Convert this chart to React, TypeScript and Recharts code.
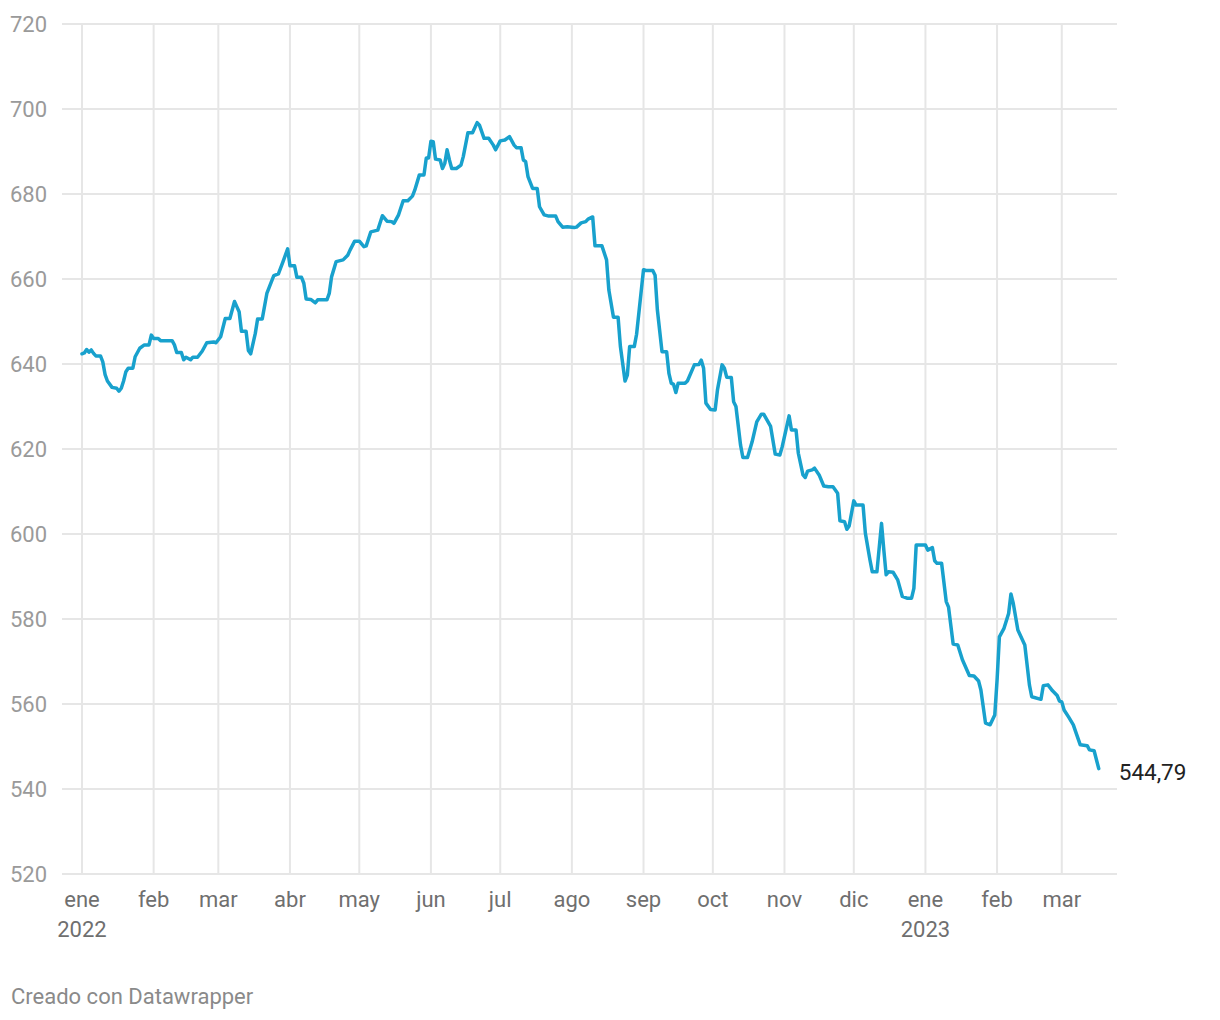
import React from "react";
import { LineChart, Line, XAxis, YAxis, CartesianGrid, ReferenceLine } from "recharts";

// Day offsets counted from 1 January 2022
const dayOffsets: number[] = [
  0, 1, 2, 3, 4, 5, 6, 8, 9, 10,
  11, 13, 15, 16, 17, 18, 19, 20, 22, 23,
  25, 27, 29, 30, 31, 33, 34, 39, 40, 41,
  43, 44, 45, 47, 48, 50, 52, 54, 57, 58,
  60, 62, 64, 66, 67, 68, 69, 71, 72, 73,
  75, 76, 78, 80, 83, 85, 87, 89, 90, 92,
  93, 95, 96, 97, 99, 101, 102, 106, 107, 108,
  110, 113, 115, 116, 118, 120, 122, 123, 125, 128,
  130, 132, 134, 135, 137, 139, 141, 143, 144, 146,
  148, 149, 150, 151, 152, 153, 155, 156, 157, 158,
  159, 160, 162, 164, 165, 167, 169, 171, 172, 174,
  176, 178, 179, 181, 183, 185, 187, 188, 190, 191,
  192, 193, 195, 197, 198, 200, 202, 205, 206, 208,
  210, 213, 214, 216, 218, 219, 221, 222, 225, 227,
  228, 230, 232, 233, 235, 236, 237, 239, 240, 243,
  244, 247, 248, 249, 251, 253, 254, 255, 256, 257,
  258, 261, 262, 265, 267, 268, 269, 270, 272, 274,
  275, 277, 278, 279, 281, 282, 283, 285, 286, 288,
  290, 292, 294, 295, 298, 300, 302, 303, 306, 307,
  309, 310, 312, 313, 314, 316, 317, 319, 321, 323,
  325, 327, 328, 330, 331, 332, 334, 335, 338, 339,
  341, 342, 344, 346, 347, 348, 349, 351, 353, 355,
  357, 359, 360, 361, 363, 365, 366, 368, 369, 370,
  372, 374, 375, 377, 379, 381, 384, 386, 388, 389,
  391, 393, 395, 396, 397, 399, 401, 402, 403, 405,
  408, 410, 411, 415, 416, 418, 420, 422, 423, 424,
  425, 427, 429, 430, 432, 435, 436, 438, 440,
];

const values: number[] = [
  642.4, 642.6, 643.4, 642.8, 643.3, 642.5, 641.9, 641.9, 640.5, 637.5,
  636, 634.5, 634.3, 633.6, 634.3, 636, 638.2, 639, 639, 641.7,
  643.7, 644.5, 644.5, 646.8, 646, 646, 645.5, 645.5, 644.5, 642.7,
  642.7, 641, 641.6, 641, 641.6, 641.6, 643, 645, 645.2, 645,
  646.4, 650.7, 650.7, 654.7, 653.5, 652.3, 647.7, 647.7, 643.2, 642.4,
  647.2, 650.6, 650.6, 656.6, 660.8, 661.2, 664.1, 667.1, 663.1, 663.1,
  660.4, 660.4, 659, 655.3, 655.2, 654.4, 655.1, 655.1, 656.6, 660.5,
  664.1, 664.5, 665.6, 666.8, 668.9, 668.9, 667.6, 667.8, 671.1, 671.5,
  674.9, 673.6, 673.5, 673.1, 675.1, 678.4, 678.4, 679.5, 680.9, 684.5,
  684.5, 688.5, 688.5, 692.4, 692.3, 688.2, 688, 686, 687.2, 690.4,
  688, 686, 686, 686.8, 688.8, 694.4, 694.4, 696.8, 696.2, 693.1,
  693.1, 691.5, 690.4, 692.5, 692.7, 693.5, 691.5, 690.9, 690.9, 688,
  687.6, 684.1, 681.3, 681.3, 677, 675.1, 674.8, 674.8, 673.5, 672.2,
  672.3, 672.1, 672.2, 673.2, 673.5, 674.1, 674.6, 667.8, 667.8, 664.5,
  657.4, 651, 651, 644.1, 636, 637.4, 644.1, 644.1, 647, 662.2,
  662, 662, 660.9, 652.7, 642.9, 642.9, 637.8, 635.5, 635.2, 633.3,
  635.5, 635.5, 636, 639.8, 639.9, 640.9, 639, 630.8, 629.3, 629.2,
  633.9, 639.8, 639, 636.9, 636.8, 631.1, 630, 620.9, 618, 618,
  621.7, 626.4, 628.2, 628.2, 625.3, 618.8, 618.6, 620.5, 627.8, 624.5,
  624.5, 619, 613.9, 613.3, 614.8, 615.1, 615.5, 613.9, 611.3, 611.1,
  611.1, 609.6, 603.1, 602.9, 601.1, 601.9, 607.8, 606.8, 606.8, 600.2,
  593.9, 591.1, 591.1, 602.5, 596.2, 590.4, 591.1, 591, 589.2, 585.3,
  584.9, 584.9, 587.2, 597.4, 597.4, 597.4, 596.2, 596.8, 593.7, 593.1,
  593.1, 584.1, 582.8, 574.1, 573.9, 570.4, 566.7, 566.6, 565.4, 563.3,
  555.5, 555.1, 557.4, 565.6, 575.8, 577.8, 581.3, 585.9, 583.7, 577.4,
  573.9, 564.5, 561.7, 561.1, 564.3, 564.5, 563.1, 562, 560.7, 560.5,
  558.6, 556.9, 555.1, 553.5, 550.4, 550.2, 549.2, 549, 544.79,
];

// Month starts (day offsets from 1 January 2022) and their labels
const monthTicks: number[] = [0, 31, 59, 90, 120, 151, 181, 212, 243, 273, 304, 334, 365, 396, 424];
const monthLabels: string[] = ["ene", "feb", "mar", "abr", "may", "jun", "jul", "ago", "sep", "oct", "nov", "dic", "ene", "feb", "mar"];
const yearLabels: string[] = ["2022", "", "", "", "", "", "", "", "", "", "", "", "2023", "", ""];

const yTicks: number[] = [520, 540, 560, 580, 600, 620, 640, 660, 680, 700, 720];

const lastLabel = "544,79";
const creditText = "Creado con Datawrapper";

const data = dayOffsets.map((d, i) => ({ day: d, value: values[i] }));

const FONT = "Roboto, 'Noto Sans', sans-serif";
const GRID = "#e6e6e6";

const XTick = (props: any) => {
  const { x, payload } = props;
  const idx = monthTicks.indexOf(payload.value);
  const m = idx >= 0 ? monthLabels[idx] : "";
  const yr = idx >= 0 ? yearLabels[idx] : "";
  return (
    <g>
      <text x={x} y={907} textAnchor="middle" fontFamily={FONT} fontSize={22} fill="#6f6f6f">
        {m}
      </text>
      {yr ? (
        <text x={x} y={937} textAnchor="middle" fontFamily={FONT} fontSize={22} fill="#6f6f6f">
          {yr}
        </text>
      ) : null}
    </g>
  );
};

const YTick = (props: any) => {
  const { y, payload } = props;
  return (
    <text x={10} y={y + 7.5} textAnchor="start" fontFamily={FONT} fontSize={22} fill="#9a9a9a">
      {payload.value}
    </text>
  );
};

const EndLabel = (props: any) => {
  const { x, y, index } = props;
  if (index !== data.length - 1) return null;
  return (
    <text x={x + 20} y={y + 11} textAnchor="start" fontFamily={FONT} fontSize={22.5} fill="#222222">
      {lastLabel}
    </text>
  );
};

export default function App() {
  return (
    <div style={{ position: "relative", width: 1220, height: 1020, background: "#ffffff" }}>
      <style>{"body{margin:0;background:#fff}"}</style>
      <LineChart
        width={1220}
        height={1020}
        data={data}
        margin={{ top: 24, right: 103, bottom: 86, left: 10 }}
      >
        <CartesianGrid stroke={GRID} strokeWidth={2} vertical={false} />
        {monthTicks.map((t) => (
          <ReferenceLine key={t} x={t} stroke={GRID} strokeWidth={2} ifOverflow="hidden" />
        ))}
        <XAxis
          dataKey="day"
          type="number"
          domain={[-8.65, 447.9]}
          allowDataOverflow
          ticks={monthTicks}
          interval={0}
          height={60}
          axisLine={false}
          tickLine={false}
          tick={<XTick />}
        />
        <YAxis
          type="number"
          domain={[520, 720]}
          ticks={yTicks}
          interval={0}
          width={52}
          axisLine={false}
          tickLine={false}
          tick={<YTick />}
        />
        <Line
          type="linear"
          dataKey="value"
          stroke="#18a1cd"
          strokeWidth={3.5}
          strokeLinejoin="round"
          strokeLinecap="round"
          dot={false}
          activeDot={false}
          isAnimationActive={false}
          label={<EndLabel />}
        />
      </LineChart>
      <div
        style={{
          position: "absolute",
          left: 11,
          top: 984,
          fontFamily: FONT,
          fontSize: 22,
          lineHeight: "26px",
          color: "#8a8a8a",
          whiteSpace: "nowrap",
        }}
      >
        {creditText}
      </div>
    </div>
  );
}
